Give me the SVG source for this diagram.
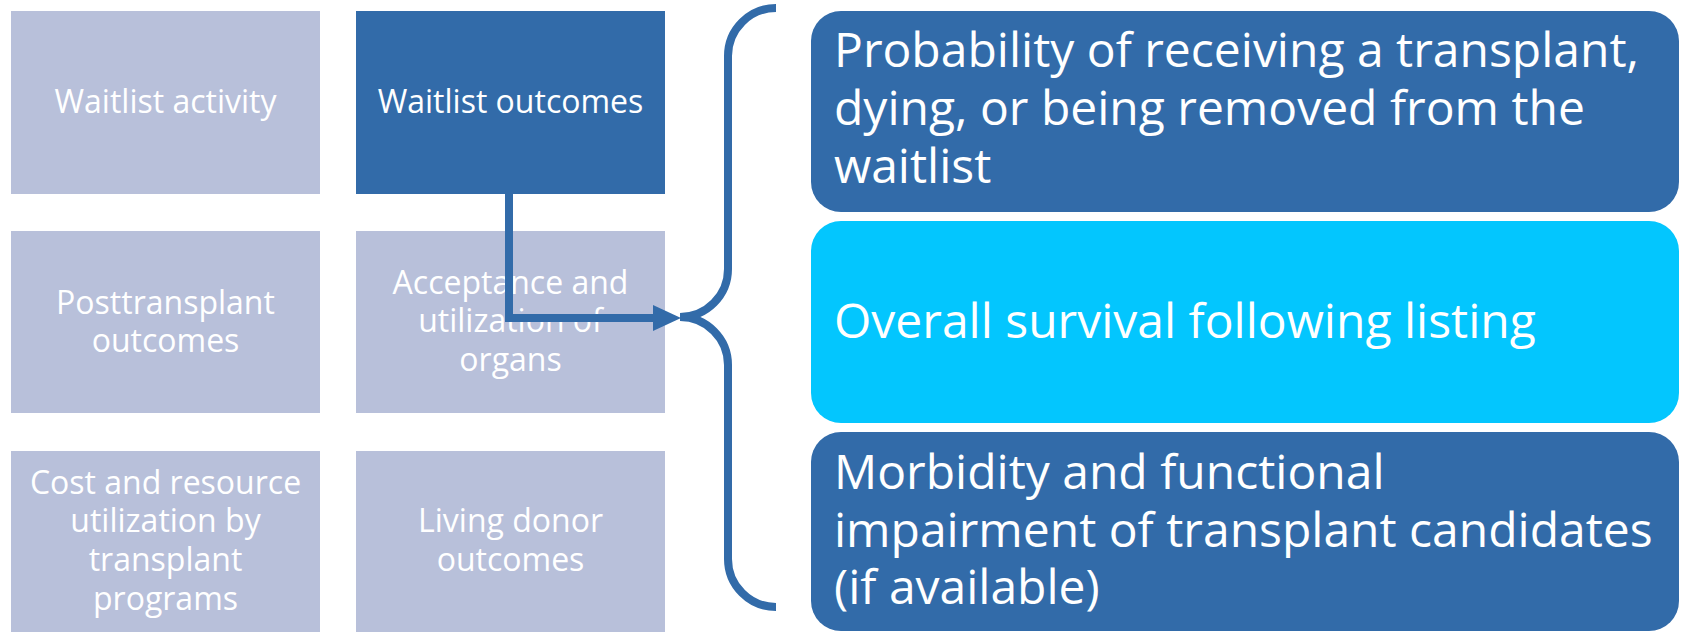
<svg xmlns="http://www.w3.org/2000/svg" width="1683" height="632" viewBox="0 0 1683 632">
<style>
.light{fill:#B8C0DA}
.dark{fill:#326BA9}
.cyan{fill:#03C6FE}
.lt{font-family:"Open Sans","Noto Sans","Liberation Sans",sans-serif;font-size:32px;fill:#FFFFFF;text-anchor:middle}
.rt{font-family:"Open Sans","Noto Sans","Liberation Sans",sans-serif;font-size:48px;fill:#FFFFFF}
.conn{fill:none;stroke:#326BA9;stroke-width:8}
</style>
<rect width="1683" height="632" fill="#FFFFFF"/>
<g id="waitlist-activity">
<rect class="light" x="11" y="11" width="309" height="183"/>
<text class="lt" x="165.5" y="113">Waitlist activity</text>
</g>
<g id="waitlist-outcomes">
<rect class="dark" x="356" y="11" width="309" height="183"/>
<text class="lt" x="510.5" y="113">Waitlist outcomes</text>
</g>
<g id="posttransplant-outcomes">
<rect class="light" x="11" y="231" width="309" height="182"/>
<text class="lt" x="165.5" y="314">Posttransplant</text>
<text class="lt" x="165.5" y="352">outcomes</text>
</g>
<g id="acceptance-utilization">
<rect class="light" x="356" y="231" width="309" height="182"/>
<text class="lt" x="510.5" y="294">Acceptance and</text>
<text class="lt" x="510.5" y="332">utilization of</text>
<text class="lt" x="510.5" y="371">organs</text>
</g>
<g id="cost-resource">
<rect class="light" x="11" y="451" width="309" height="190"/>
<text class="lt" x="165.5" y="494">Cost and resource</text>
<text class="lt" x="165.5" y="532">utilization by</text>
<text class="lt" x="165.5" y="571">transplant</text>
<text class="lt" x="165.5" y="610">programs</text>
</g>
<g id="living-donor-outcomes">
<rect class="light" x="356" y="451" width="309" height="190"/>
<text class="lt" x="510.5" y="532">Living donor</text>
<text class="lt" x="510.5" y="571">outcomes</text>
</g>
<g id="probability">
<rect class="dark" x="811" y="11" width="868" height="201" rx="30" ry="30"/>
<text class="rt" x="834" y="67">Probability of receiving a transplant,</text>
<text class="rt" x="834" y="125">dying, or being removed from the</text>
<text class="rt" x="834" y="183">waitlist</text>
</g>
<g id="overall-survival">
<rect class="cyan" x="811" y="221" width="868" height="202" rx="30" ry="30"/>
<text class="rt" x="834" y="338">Overall survival following listing</text>
</g>
<g id="morbidity">
<rect class="dark" x="811" y="432" width="868" height="199" rx="30" ry="30"/>
<text class="rt" x="834" y="489">Morbidity and functional</text>
<text class="rt" x="834" y="547">impairment of transplant candidates</text>
<text class="rt" x="834" y="604">(if available)</text>
</g>
<g id="connectors">
<path class="conn" d="M 509 194 L 509 318 L 656 318"/>
<polygon points="653,305 681,318 653,331" fill="#326BA9"/>
<path class="conn" d="M 776 8 A 48 48 0 0 0 728 56 L 728 269 A 48 48 0 0 1 680 317 A 48 48 0 0 1 728 365 L 728 559 A 48 48 0 0 0 776 607"/>
</g>
</svg>
